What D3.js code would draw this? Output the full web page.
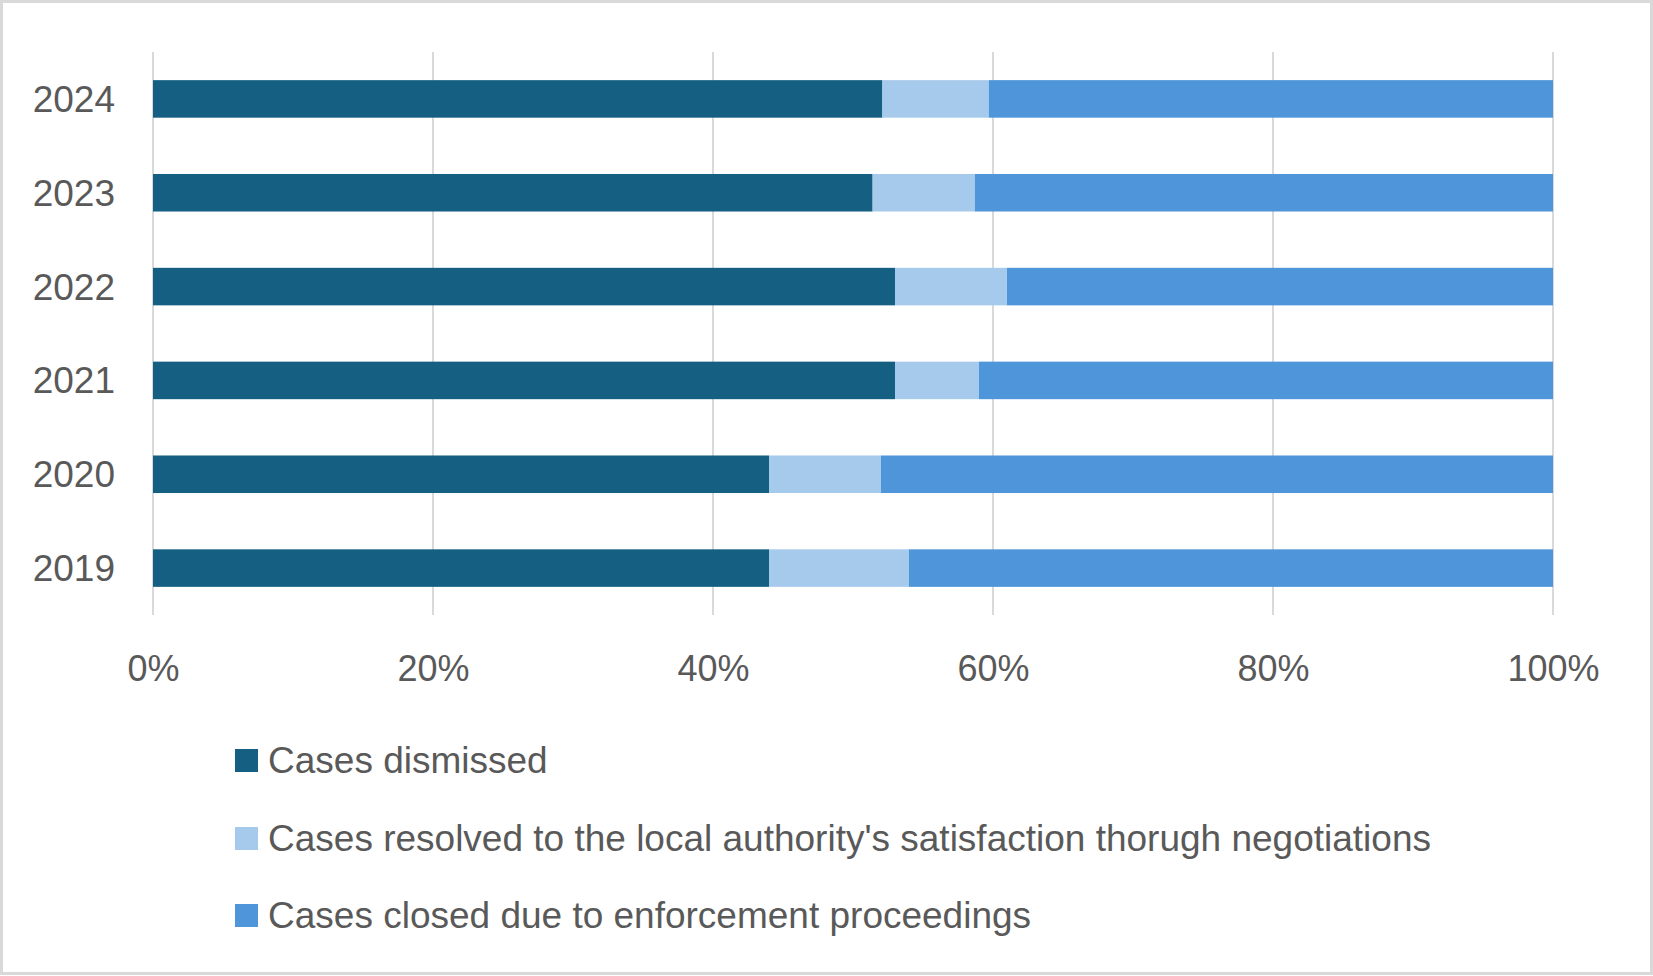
<!DOCTYPE html>
<html>
<head>
<meta charset="utf-8">
<script src="https://cdn.jsdelivr.net/npm/d3@7"></script>
<style>
  body { margin: 0; background: #fff; }
  svg text { font-family: "Liberation Sans", Arial, sans-serif; fill: #595959; }
</style>
</head>
<body>
<svg id="chart" width="1653" height="976"></svg>
<script>
// data (shares in %)
var years = ['2024', '2023', '2022', '2021', '2020', '2019'];
var dismissed = [52.1, 51.4, 53.0, 53.0, 44.0, 44.0];
var resolved = [7.6, 7.3, 8.0, 6.0, 8.0, 10.0];
var enforcement = [40.3, 41.3, 39.0, 41.0, 48.0, 46.0];
var seriesNames = ['Cases dismissed',
  "Cases resolved to the local authority's satisfaction thorugh negotiations",
  'Cases closed due to enforcement proceedings'];
var colors = ['#156082', '#A6CAEC', '#4E95D9'];
var xTicks = [0, 20, 40, 60, 80, 100];

var svg = d3.select('#chart');

// outer frame
svg.append('rect')
  .attr('x', 1.5).attr('y', 1.5)
  .attr('width', 1650).attr('height', 972)
  .attr('fill', '#fff')
  .attr('stroke', '#d9d9d9')
  .attr('stroke-width', 3);

var x = d3.scaleLinear().domain([0, 100]).range([153, 1553]);
var y = d3.scaleBand().domain(years).range([52, 615])
  .paddingInner(0.6).paddingOuter(0.3);

// gridlines
svg.append('g').selectAll('line').data(xTicks).enter().append('line')
  .attr('x1', function(d){ return x(d); })
  .attr('x2', function(d){ return x(d); })
  .attr('y1', 52).attr('y2', 615)
  .attr('stroke', '#d9d9d9')
  .attr('stroke-width', 2);

// stacked bars
var rows = years.map(function(yr, i){
  return { year: yr, dismissed: dismissed[i], resolved: resolved[i], enforcement: enforcement[i] };
});
var stack = d3.stack().keys(['dismissed', 'resolved', 'enforcement']);
var layers = stack(rows);

svg.append('g').selectAll('g').data(layers).enter().append('g')
  .attr('fill', function(d, i){ return colors[i]; })
  .selectAll('rect').data(function(d){ return d; }).enter().append('rect')
  .attr('x', function(d){ return x(d[0]); })
  .attr('width', function(d){ return x(d[1]) - x(d[0]); })
  .attr('y', function(d){ return y(d.data.year); })
  .attr('height', y.bandwidth());

// x axis labels
var xAxis = d3.axisBottom(x).tickValues(xTicks)
  .tickFormat(function(d){ return d + '%'; })
  .tickSize(0).tickPadding(0);
var gx = svg.append('g').attr('transform', 'translate(0,655)').call(xAxis);
gx.select('.domain').remove();
gx.selectAll('text').attr('font-size', 36).attr('dy', '0.71em')
  .style('font-family', '"Liberation Sans", Arial, sans-serif').attr('fill', '#595959');

// y axis labels
var yAxis = d3.axisLeft(y).tickSize(0).tickPadding(0);
var gy = svg.append('g').attr('transform', 'translate(115,0)').call(yAxis);
gy.select('.domain').remove();
gy.selectAll('text').attr('font-size', 37).attr('dy', '0.35em')
  .style('font-family', '"Liberation Sans", Arial, sans-serif').attr('fill', '#595959');

// legend
var legendY = [760.5, 838.5, 915.5];
var legend = svg.append('g').selectAll('g').data(seriesNames).enter().append('g')
  .attr('transform', function(d, i){ return 'translate(235,' + legendY[i] + ')'; });
legend.append('rect')
  .attr('x', 0).attr('y', -11.5)
  .attr('width', 23).attr('height', 23)
  .attr('fill', function(d, i){ return colors[i]; });
legend.append('text')
  .attr('x', 33).attr('dy', '0.35em')
  .attr('font-size', 37)
  .text(function(d){ return d; });
</script>
</body>
</html>
